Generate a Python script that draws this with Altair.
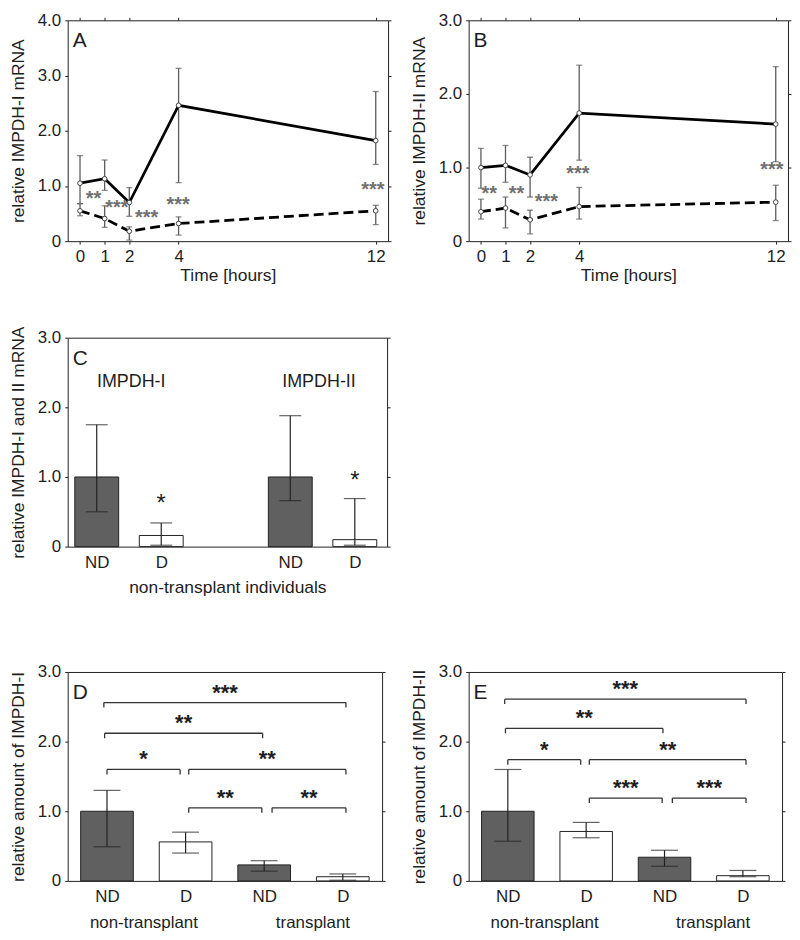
import altair as alt
import pandas as pd

FONT = "Liberation Sans"
INK = "#1e1e1e"
GREY = "#5c5c5c"

# ---------------- Panel A / B : time course ----------------
hours = [0, 1, 2, 4, 12]

a_solid = [1.05, 1.13, 0.70, 2.46, 1.82]
a_solid_hi = [1.55, 1.47, 0.97, 3.13, 2.71]
a_solid_lo = [0.68, 0.92, 0.45, 1.06, 1.39]
a_dash = [0.55, 0.41, 0.18, 0.32, 0.55]
a_dash_hi = [0.68, 0.64, 0.26, 0.44, 0.65]
a_dash_lo = [0.46, 0.25, 0.02, 0.11, 0.30]
a_star_x = [0.55, 1.50, 2.70, 3.98, 11.88]
a_star_y = [0.78, 0.62, 0.44, 0.68, 0.95]
a_star_txt = ["**", "***", "***", "***", "***"]

b_solid = [1.00, 1.03, 0.90, 1.74, 1.59]
b_solid_hi = [1.26, 1.30, 1.14, 2.39, 2.37]
b_solid_lo = [0.72, 0.80, 0.60, 1.10, 1.08]
b_dash = [0.40, 0.45, 0.29, 0.47, 0.53]
b_dash_hi = [0.57, 0.60, 0.42, 0.73, 0.76]
b_dash_lo = [0.30, 0.18, 0.10, 0.30, 0.28]
b_star_x = [0.34, 1.45, 2.66, 3.95, 11.84]
b_star_y = [0.66, 0.66, 0.55, 0.92, 0.98]
b_star_txt = ["**", "**", "***", "***", "***"]

# ---------------- Panel C ----------------
c_slot = [1, 3, 7, 9]
c_group = ["ND", "D", "ND", "D"]
c_val = [1.00, 0.16, 1.00, 0.10]
c_hi = [1.75, 0.34, 1.88, 0.69]
c_lo = [0.50, 0.02, 0.66, 0.02]
c_star_slot = [3, 9]
c_star_val = [0.69, 1.03]
c_gene = ["IMPDH-I", "IMPDH-II"]
c_gene_x = [2.07, 7.89]
c_gene_val = [2.37, 2.37]

# ---------------- Panels D / E ----------------
de_slot = [0.5, 1.5, 2.5, 3.5]
de_group = ["ND", "D", "ND", "D"]
de_cohort = ["non-transplant", "transplant"]
de_cohort_x = [0.97, 3.12]

d_val = [1.00, 0.56, 0.23, 0.06]
d_hi = [1.30, 0.70, 0.29, 0.10]
d_lo = [0.49, 0.40, 0.14, 0.01]
e_val = [1.00, 0.71, 0.34, 0.075]
e_hi = [1.60, 0.84, 0.44, 0.15]
e_lo = [0.57, 0.62, 0.21, 0.06]

br_x1 = [0.46, 0.47, 0.50, 1.54, 1.54, 2.60]
br_x2 = [3.54, 2.48, 1.43, 3.54, 2.47, 3.54]
d_br_y = [2.56, 2.12, 1.60, 1.60, 1.05, 1.05]
d_br_txt = ["***", "**", "*", "**", "**", "**"]
e_br_y = [2.61, 2.19, 1.74, 1.74, 1.19, 1.19]
e_br_txt = ["***", "**", "*", "**", "***", "***"]

YLAB = "datum.value == 0 ? '0' : format(datum.value, '.1f')"


def cat_expr(pos, labels):
    parts = [f"datum.value == {p} ? '{l}'" for p, l in zip(pos, labels)]
    return " : ".join(parts) + " : ''"


def mirror_axes(yvals, xvals=None):
    xa = None
    if xvals is not None:
        xa = alt.Axis(orient="top", values=xvals, labels=False, title=None,
                      tickSize=3, domain=False, grid=False)
    ya = alt.Axis(orient="right", values=yvals, labels=False, title=None,
                  tickSize=3, domain=False, grid=False)
    return xa, ya


def letter_layer(letter):
    return alt.Chart(pd.DataFrame({"L": [letter]})).mark_text(
        font=FONT, fontSize=21, align="left", baseline="alphabetic", color=INK
    ).encode(x=alt.value(5), y=alt.value(27), text="L:N")


def line_panel(letter, ytitle, ymax, W, H, solid, shi, slo, dash, dhi, dlo, sx, sy, stxt):
    xs = alt.Scale(domain=[-0.5, 12.5], nice=False, zero=False)
    ys = alt.Scale(domain=[0, ymax], nice=False, zero=False)
    yvals = list(range(0, ymax + 1))
    df = pd.DataFrame({"t": hours * 2, "v": solid + dash, "hi": shi + dhi,
                       "lo": slo + dlo, "s": ["solid"] * 5 + ["dash"] * 5})
    sdf = pd.DataFrame({"t": sx, "v": sy, "txt": stxt})

    def X(f, axis=None):
        return alt.X(f, type="quantitative", scale=xs, axis=axis)

    def Y(f, axis=None):
        return alt.Y(f, type="quantitative", scale=ys, axis=axis)

    main_x = alt.Axis(values=hours, title="Time [hours]", tickSize=3, labelPadding=4,
                      titlePadding=3, domain=False, grid=False)
    main_y = alt.Axis(values=yvals, labelExpr=YLAB, title=ytitle, tickSize=3,
                      labelPadding=4, titlePadding=10, domain=False, grid=False)
    stems = alt.Chart(df).mark_rule(color=GREY, strokeWidth=1.3).encode(
        x=X("t", main_x), y=Y("lo", main_y), y2="hi")
    cap_hi = alt.Chart(df).mark_tick(orient="horizontal", size=6, thickness=1.3, color=GREY).encode(
        x=X("t"), y=Y("hi"))
    cap_lo = alt.Chart(df).mark_tick(orient="horizontal", size=6, thickness=1.3, color=GREY).encode(
        x=X("t"), y=Y("lo"))
    line_d = alt.Chart(df[df.s == "dash"]).mark_line(
        color="black", strokeWidth=2.8, strokeDash=[10, 5]).encode(x=X("t"), y=Y("v"))
    line_s = alt.Chart(df[df.s == "solid"]).mark_line(
        color="black", strokeWidth=2.7).encode(x=X("t"), y=Y("v"))
    pts = alt.Chart(df).mark_point(filled=True, fill="white", stroke="#444", strokeWidth=1,
                                   size=22, opacity=1).encode(x=X("t"), y=Y("v"))
    stars = alt.Chart(sdf).mark_text(font=FONT, fontSize=20, fontWeight="bold", color="#707070",
                                     baseline="alphabetic", dy=7).encode(
        x=X("t"), y=Y("v"), text="txt:N")
    mxa, mya = mirror_axes(yvals, hours)
    mirror = alt.Chart(df).mark_point(opacity=0).encode(x=X("t", mxa), y=Y("v", mya))
    return alt.layer(stems, cap_hi, cap_lo, line_d, line_s, pts, stars,
                     letter_layer(letter), mirror).resolve_axis(
        x="independent", y="independent").properties(width=W, height=H)


def bar_color():
    return alt.Color("g:N", scale=alt.Scale(domain=["ND", "D"], range=["#606060", "#ffffff"]),
                     legend=None)


def panel_c(W, H):
    xs = alt.Scale(domain=[0.1, 10], nice=False, zero=False)
    ys = alt.Scale(domain=[0, 3], nice=False, zero=False)
    half = 0.68
    df = pd.DataFrame({"p": c_slot, "g": c_group, "v": c_val, "hi": c_hi, "lo": c_lo})
    df["x1"] = df.p - half
    df["x2"] = df.p + half

    def X(f, axis=None):
        return alt.X(f, type="quantitative", scale=xs, axis=axis)

    def Y(f, axis=None):
        return alt.Y(f, type="quantitative", scale=ys, axis=axis)

    main_x = alt.Axis(values=c_slot, labelExpr=cat_expr(c_slot, c_group), ticks=False,
                      labelPadding=8, title="non-transplant individuals", titlePadding=8,
                      domain=False, grid=False)
    main_y = alt.Axis(values=[0, 1, 2, 3], labelExpr=YLAB, title="relative IMPDH-I and II mRNA",
                      tickSize=3, labelPadding=4, titlePadding=10, domain=False, grid=False)
    bars = alt.Chart(df).mark_bar(stroke="#222", strokeWidth=1).encode(
        x=X("x1", main_x), x2="x2", y=Y("v", main_y), y2=alt.datum(0), color=bar_color())
    stem = alt.Chart(df).mark_rule(color="#222", strokeWidth=1.2).encode(
        x=X("p"), y=Y("lo"), y2="hi")
    cap_hi = alt.Chart(df).mark_tick(orient="horizontal", size=22, thickness=1.2, color="#222").encode(
        x=X("p"), y=Y("hi"))
    cap_lo = alt.Chart(df).mark_tick(orient="horizontal", size=22, thickness=1.2, color="#222").encode(
        x=X("p"), y=Y("lo"))
    sdf = pd.DataFrame({"p": c_star_slot, "v": c_star_val})
    stars = alt.Chart(sdf).mark_text(text="*", font=FONT, fontSize=24, color=INK,
                                     baseline="alphabetic", dy=13).encode(x=X("p"), y=Y("v"))
    gdf = pd.DataFrame({"x": c_gene_x, "v": c_gene_val, "t": c_gene})
    genes = alt.Chart(gdf).mark_text(font=FONT, fontSize=18, color=INK).encode(
        x=X("x"), y=Y("v"), text="t:N")
    _, mya = mirror_axes([0, 1, 2, 3])
    mirror = alt.Chart(df).mark_point(opacity=0).encode(x=X("p"), y=Y("v", mya))
    return alt.layer(bars, stem, cap_hi, cap_lo, stars, genes, letter_layer("C"),
                     mirror).resolve_axis(x="independent", y="independent").properties(
        width=W, height=H)


def panel_de(letter, ytitle, vals, his, los, br_y, br_txt, W, H):
    xs = alt.Scale(domain=[0, 4], nice=False, zero=False)
    ys = alt.Scale(domain=[0, 3], nice=False, zero=False)
    half = 0.335
    df = pd.DataFrame({"p": de_slot, "g": de_group, "v": vals, "hi": his, "lo": los})
    df["x1"] = df.p - half
    df["x2"] = df.p + half

    def X(f, axis=None):
        return alt.X(f, type="quantitative", scale=xs, axis=axis)

    def Y(f, axis=None):
        return alt.Y(f, type="quantitative", scale=ys, axis=axis)

    main_x = alt.Axis(values=de_slot, labelExpr=cat_expr(de_slot, de_group), ticks=False,
                      labelPadding=8, title=None, domain=False, grid=False)
    main_y = alt.Axis(values=[0, 1, 2, 3], labelExpr=YLAB, title=ytitle,
                      tickSize=3, labelPadding=4, titlePadding=10, domain=False, grid=False)
    bars = alt.Chart(df).mark_bar(stroke="#222", strokeWidth=1).encode(
        x=X("x1", main_x), x2="x2", y=Y("v", main_y), y2=alt.datum(0), color=bar_color())
    stem = alt.Chart(df).mark_rule(color="#222", strokeWidth=1.2).encode(
        x=X("p"), y=Y("lo"), y2="hi")
    cap_hi = alt.Chart(df).mark_tick(orient="horizontal", size=27, thickness=1.2, color="#222").encode(
        x=X("p"), y=Y("hi"))
    cap_lo = alt.Chart(df).mark_tick(orient="horizontal", size=27, thickness=1.2, color="#222").encode(
        x=X("p"), y=Y("lo"))
    drop = 5.0 / (H / 3.0)
    bdf = pd.DataFrame({"x1": br_x1, "x2": br_x2, "y": br_y, "t": br_txt})
    bdf["xm"] = (bdf.x1 + bdf.x2) / 2
    bdf["yd"] = bdf.y - drop
    hline = alt.Chart(bdf).mark_rule(color="#333", strokeWidth=1.3).encode(
        x=X("x1"), x2="x2", y=Y("y"))
    lft = alt.Chart(bdf).mark_rule(color="#333", strokeWidth=1.3).encode(
        x=X("x1"), y=Y("yd"), y2="y")
    rgt = alt.Chart(bdf).mark_rule(color="#333", strokeWidth=1.3).encode(
        x=X("x2"), y=Y("yd"), y2="y")
    btxt = alt.Chart(bdf).mark_text(font=FONT, fontSize=22, fontWeight="bold", color=INK,
                                    baseline="alphabetic", dy=-3).encode(
        x=X("xm"), y=Y("y"), text="t:N")
    cdf = pd.DataFrame({"x": de_cohort_x, "t": de_cohort})
    cohort = alt.Chart(cdf).mark_text(font=FONT, fontSize=17, color=INK,
                                      baseline="alphabetic").encode(
        x=X("x"), y=alt.value(H + 47), text="t:N")
    _, mya = mirror_axes([0, 1, 2, 3])
    mirror = alt.Chart(df).mark_point(opacity=0).encode(x=X("p"), y=Y("v", mya))
    return alt.layer(bars, stem, cap_hi, cap_lo, hline, lft, rgt, btxt, cohort,
                     letter_layer(letter), mirror).resolve_axis(
        x="independent", y="independent").properties(width=W, height=H)


pa = line_panel("A", "relative IMPDH-I mRNA", 4, 322, 222, a_solid, a_solid_hi, a_solid_lo,
                a_dash, a_dash_hi, a_dash_lo, a_star_x, a_star_y, a_star_txt)
pb = line_panel("B", "relative IMPDH-II mRNA", 3, 321, 222, b_solid, b_solid_hi, b_solid_lo,
                b_dash, b_dash_hi, b_dash_lo, b_star_x, b_star_y, b_star_txt)
pc = panel_c(321, 210)
pd_ = panel_de("D", "relative amount of IMPDH-I", d_val, d_hi, d_lo, d_br_y, d_br_txt, 316, 210)
pe = panel_de("E", "relative amount of IMPDH-II", e_val, e_hi, e_lo, e_br_y, e_br_txt, 315, 210)

# invisible spacer: makes the middle row taller so the bottom row sits lower
spacer = alt.Chart(pd.DataFrame({"a": [0]})).mark_point(opacity=0).encode(
    x=alt.value(0), y=alt.value(0)
).properties(width=10, height=239, view=alt.ViewBackground(stroke="transparent"))

chart = alt.concat(pa, pb, pc, spacer, pd_, pe, columns=2, bounds="flush",
                   spacing={"row": 97, "column": 81}).properties(
    padding=0
).configure_view(stroke="#222", strokeWidth=1).configure_axis(
    labelFont=FONT, titleFont=FONT, labelFontSize=17, titleFontSize=17.5,
    titleFontWeight="normal", labelColor=INK, titleColor=INK, tickColor="#222", grid=False
)

chart.save("out.html", embed_options={"renderer": "svg", "actions": False})
